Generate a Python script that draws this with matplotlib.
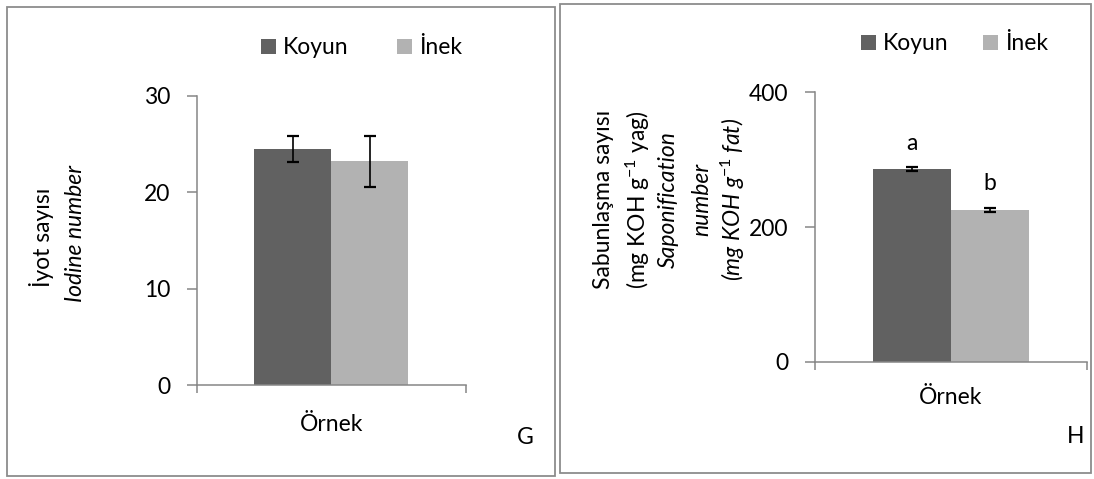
import matplotlib
matplotlib.use("Agg")
import matplotlib.pyplot as plt
from matplotlib.patches import Rectangle, Patch

plt.rcParams['font.family'] = ['Lato', 'DejaVu Sans']
plt.rcParams['mathtext.fontset'] = 'custom'
plt.rcParams['mathtext.rm'] = 'Lato'
plt.rcParams['mathtext.it'] = 'Lato:italic'

# ---- data ----
series = ["Koyun", "İnek"]
category = ["Örnek"]
iodine_values = [24.45, 23.2]
iodine_errors = [1.33, 2.65]
sapon_values = [286.0, 225.5]
sapon_errors = [3.0, 3.0]
sapon_letters = ["a", "b"]
iodine_ticks = [0, 10, 20, 30]
sapon_ticks = [0, 200, 400]
colors = ["#616161", "#b2b2b2"]

W, H = 1094, 479
fig = plt.figure(figsize=(W / 100, H / 100), dpi=100)
FS = 16.5
AX_COL = "#868686"


def fx(px):
    return px / W


def fy(py):
    return 1 - py / H


# frames
for (x0, y0, x1, y1) in [(7, 7, 555, 476), (560, 4, 1091, 473)]:
    fig.add_artist(Rectangle((fx(x0), fy(y1)), fx(x1 - x0), (y1 - y0) / H,
                             transform=fig.transFigure, fill=False,
                             edgecolor="#8c8c8c", lw=1.3))


def make_axes(rect, values, errors, ticks, ymax, capsize, label_pad):
    ax = fig.add_axes(rect)
    bw = 0.286
    xs = [-bw / 2, bw / 2]
    for i in range(2):
        ax.bar(xs[i], values[i], width=bw, color=colors[i], zorder=2)
        ax.errorbar(xs[i], values[i], yerr=errors[i], fmt="none",
                    ecolor="black", elinewidth=1.2, capsize=capsize,
                    capthick=1.6, zorder=3)
    ax.set_xlim(-0.5, 0.5)
    ax.set_ylim(0, ymax)
    ax.set_yticks(ticks)
    ax.set_yticklabels([str(t) for t in ticks], fontsize=FS)
    for s in ["top", "right"]:
        ax.spines[s].set_visible(False)
    for s in ["left", "bottom"]:
        ax.spines[s].set_color(AX_COL)
        ax.spines[s].set_linewidth(1.1)
    ax.tick_params(axis="y", direction="out", length=7, width=1.1,
                   color=AX_COL, pad=12)
    ax.set_xticks([-0.5, 0.5])
    ax.set_xticklabels(["", ""])
    ax.tick_params(axis="x", which="major", direction="out", length=6,
                   width=1.1, color=AX_COL)
    ax.set_xticks([0], minor=True)
    ax.set_xticklabels(category, minor=True, fontsize=FS)
    ax.tick_params(axis="x", which="minor", length=0, pad=label_pad)
    ax.set_facecolor("none")
    return ax, xs


# left chart
axL, xsL = make_axes([fx(196.7), fy(385), fx(269), (385 - 95.7) / H],
                     iodine_values, iodine_errors, iodine_ticks, 30, 4.6, 21)
# right chart
axR, xsR = make_axes([fx(815), fy(361.7), fx(271.7), (361.7 - 92.3) / H],
                     sapon_values, sapon_errors, sapon_ticks, 400, 4.2, 18)

for i, lt in enumerate(sapon_letters):
    axR.annotate(lt, (xsR[i], sapon_values[i] + sapon_errors[i]),
                 xytext=(0, 12.5), textcoords="offset points",
                 ha="center", va="baseline", fontsize=FS)

# legends
handles = [Patch(facecolor=c, edgecolor="none") for c in colors]
fig.legend(handles, series, loc="center left",
           bbox_to_anchor=(fx(261), fy(48)), ncol=2, frameon=False,
           fontsize=FS, handlelength=0.66, handleheight=0.66,
           handletextpad=0.3, columnspacing=2.1, borderpad=0,
           borderaxespad=0)
fig.legend(handles, series, loc="center left",
           bbox_to_anchor=(fx(861), fy(44)), ncol=2, frameon=False,
           fontsize=FS, handlelength=0.66, handleheight=0.66,
           handletextpad=0.3, columnspacing=1.5, borderpad=0,
           borderaxespad=0)

# y-axis titles
fig.text(fx(41.7), fy(237), "İyot sayısı", rotation=90, ha="center",
         va="center", fontsize=FS)
fig.text(fx(75), fy(233), "Iodine number", rotation=90, ha="center",
         va="center", fontsize=FS, style="italic")

rlines = [
    ("Sabunlaşma sayısı", "normal", 603),
    ("(mg KOH g$^{-1}$ yag)", "normal", 638),
    ("Saponification", "italic", 668),
    ("number", "italic", 701.7),
    ("(mg KOH g$^{\\mathit{-1}}$ fat)", "italic", 733),
]
for txt, st, x in rlines:
    fig.text(fx(x), fy(199.5), txt, rotation=90, ha="center", va="center",
             fontsize=FS, style=st)

# panel letters
fig.text(fx(525), fy(437), "G", ha="center", va="center", fontsize=FS)
fig.text(fx(1076), fy(436.5), "H", ha="center", va="center", fontsize=FS)

fig.savefig("out.png", dpi=100)
